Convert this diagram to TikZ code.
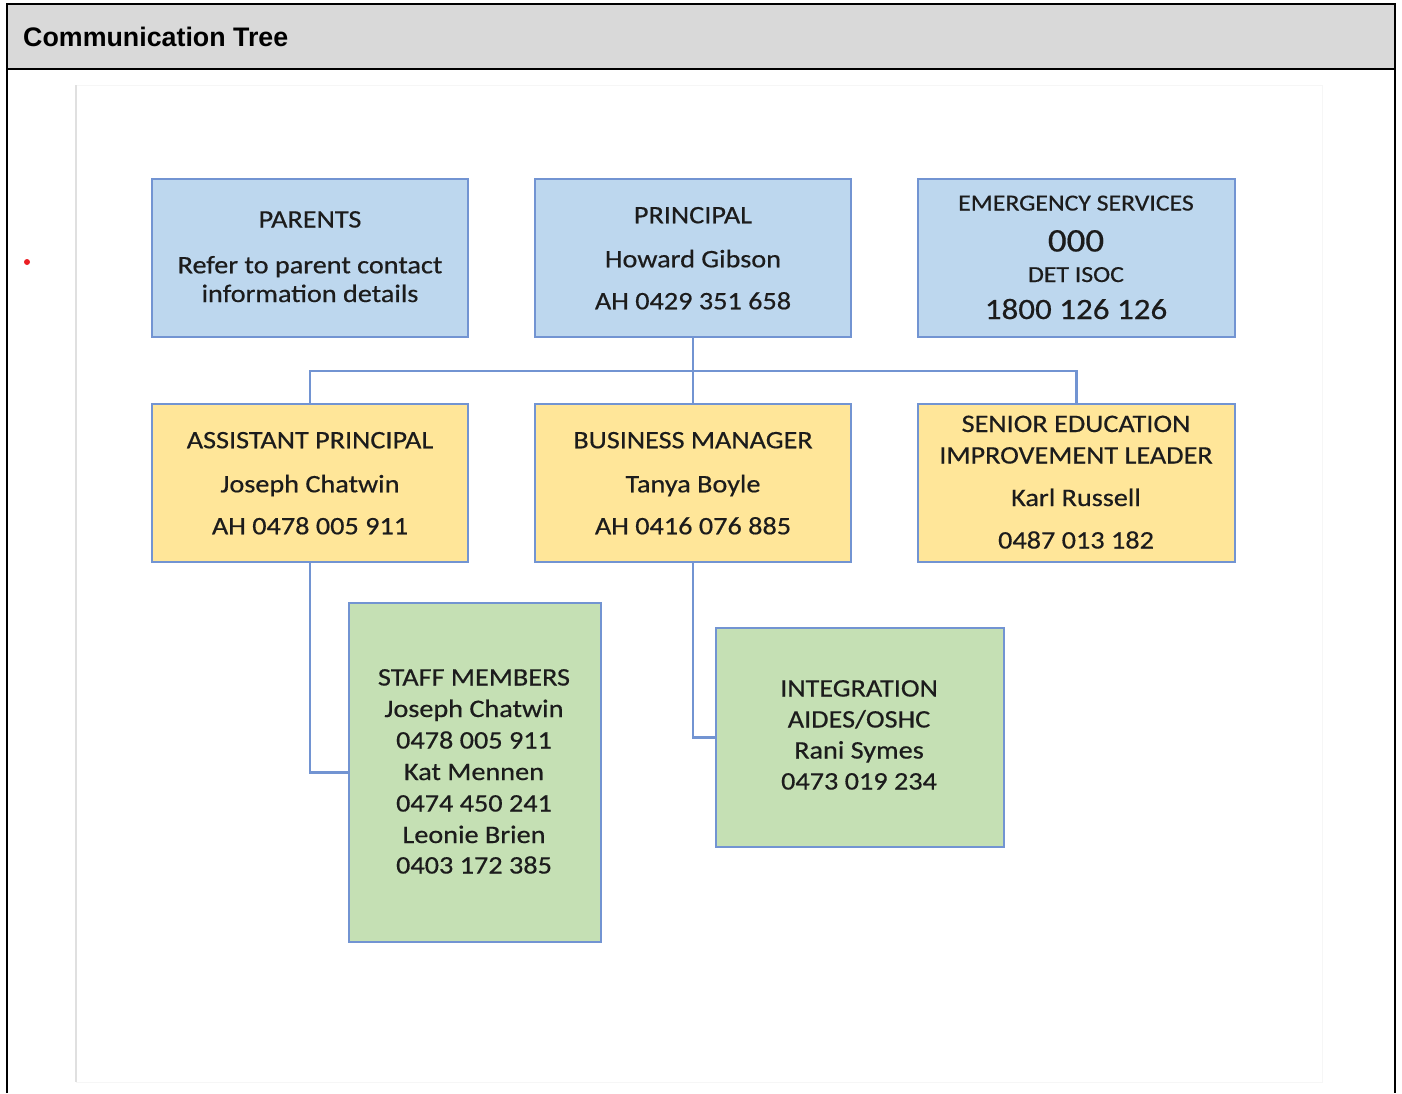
\documentclass[tikz,border=0pt]{standalone}
\usepackage{fontspec}
\setmainfont{Liberation Sans}
\newfontfamily\boxfont[FakeStretch=1.12,FakeBold=0.5]{Carlito}
\definecolor{bluefill}{RGB}{189,215,238}
\definecolor{yellowfill}{RGB}{255,230,153}
\definecolor{greenfill}{RGB}{197,224,180}
\definecolor{boxline}{RGB}{114,148,210}
\definecolor{headgray}{RGB}{217,217,217}
\definecolor{txtcol}{RGB}{28,28,28}
\definecolor{margingray}{RGB}{224,224,224}
\definecolor{faintgray}{RGB}{246,246,246}
\definecolor{dotred}{RGB}{235,30,35}
\tikzset{
  box/.style={draw=boxline, line width=2pt, inner sep=0pt, outer sep=0pt},
  bluebox/.style={box, fill=bluefill},
  yellowbox/.style={box, fill=yellowfill},
  greenbox/.style={box, fill=greenfill},
  conn/.style={draw=boxline, line width=2.2pt},
  txt/.style={anchor=base, inner sep=0pt, text=txtcol, font=\boxfont\fontsize{25.2}{28}\selectfont},
  smalltxt/.style={txt, font=\boxfont\fontsize{23}{26}\selectfont},
}
\begin{document}
\begin{tikzpicture}[x=1pt,y=-1pt]
\useasboundingbox (0,0) rectangle (1402,1093);
% header and frame
\fill[headgray] (7,4) rectangle (1395,69);
\draw[line width=2pt] (7,1093) -- (7,4) -- (1395,4) -- (1395,1093);
\draw[line width=2pt] (7,69) -- (1395,69);
\node[anchor=base west, inner sep=0pt, font=\bfseries\fontsize{26.8}{28}\selectfont] (title) at (23,46) {Communication Tree};
% margin lines
\draw[faintgray, line width=1pt] (76,85) -- (1322,85) -- (1322,1082) -- (76,1082);
\draw[margingray, line width=1.5pt] (76,85) -- (76,1082);
\fill[dotred] (27,262) circle (3);
% boxes row 1
\node[bluebox, minimum width=316, minimum height=158] (parents) at (310,258) {};
\node[bluebox, minimum width=316, minimum height=158] (principal) at (693,258) {};
\node[bluebox, minimum width=317, minimum height=158] (emergency) at (1076.5,258) {};
% boxes row 2
\node[yellowbox, minimum width=316, minimum height=158] (assistant) at (310,483) {};
\node[yellowbox, minimum width=316, minimum height=158] (business) at (693,483) {};
\node[yellowbox, minimum width=317, minimum height=158] (senior) at (1076.5,483) {};
% boxes row 3
\node[greenbox, minimum width=252, minimum height=339] (staff) at (475,772.5) {};
\node[greenbox, minimum width=288, minimum height=219] (integration) at (860,737.5) {};
% connectors
\coordinate (bus) at (693,371);
\draw[conn] (principal.south) -- (bus);
\draw[conn] (bus) -- (business.north);
\draw[conn] (assistant.north) |- (bus) -| (senior.north);
\draw[conn] (assistant.south) |- (staff.west);
\draw[conn] (business.south) |- (integration.west);
% texts
\node[txt] (t-par1) at (310,227.5) {PARENTS};
\node[txt] (t-par2) at (310,273.3) {Refer to parent contact};
\node[txt] (t-par3) at (310,302) {information details};
\node[txt] (t-pri1) at (693,223.3) {PRINCIPAL};
\node[txt] (t-pri2) at (693,267.3) {Howard Gibson};
\node[txt] (t-pri3) at (693,309.3) {AH 0429 351 658};
\node[smalltxt] (t-em1) at (1076,210.5) {EMERGENCY SERVICES};
\node[txt, font=\boxfont\fontsize{33}{36}\selectfont] (t-em2) at (1076,251.5) {000};
\node[smalltxt] (t-em3) at (1076,282) {DET ISOC};
\node[txt, font=\boxfont\fontsize{29.5}{32}\selectfont] (t-em4) at (1076,319) {1800 126 126};
\node[txt] (t-as1) at (310,448.3) {ASSISTANT PRINCIPAL};
\node[txt] (t-as2) at (310,492.3) {Joseph Chatwin};
\node[txt] (t-as3) at (310,534.3) {AH 0478 005 911};
\node[txt] (t-bu1) at (693,448.3) {BUSINESS MANAGER};
\node[txt] (t-bu2) at (693,492.3) {Tanya Boyle};
\node[txt] (t-bu3) at (693,534.3) {AH 0416 076 885};
\node[txt] (t-se1) at (1076,432) {SENIOR EDUCATION};
\node[txt] (t-se2) at (1076,463.5) {IMPROVEMENT LEADER};
\node[txt] (t-se3) at (1076,506) {Karl Russell};
\node[txt] (t-se4) at (1076,548.5) {0487 013 182};
\node[txt] (t-st1) at (474,685.5) {STAFF MEMBERS};
\node[txt] (t-st2) at (474,717) {Joseph Chatwin};
\node[txt] (t-st3) at (474,748.5) {0478 005 911};
\node[txt] (t-st4) at (474,780) {Kat Mennen};
\node[txt] (t-st5) at (474,811.5) {0474 450 241};
\node[txt] (t-st6) at (474,843) {Leonie Brien};
\node[txt] (t-st7) at (474,873.5) {0403 172 385};
\node[txt] (t-in1) at (859,696.5) {INTEGRATION};
\node[txt] (t-in2) at (859,727.5) {AIDES/OSHC};
\node[txt] (t-in3) at (859,758.5) {Rani Symes};
\node[txt] (t-in4) at (859,789.5) {0473 019 234};
\end{tikzpicture}
\end{document}
